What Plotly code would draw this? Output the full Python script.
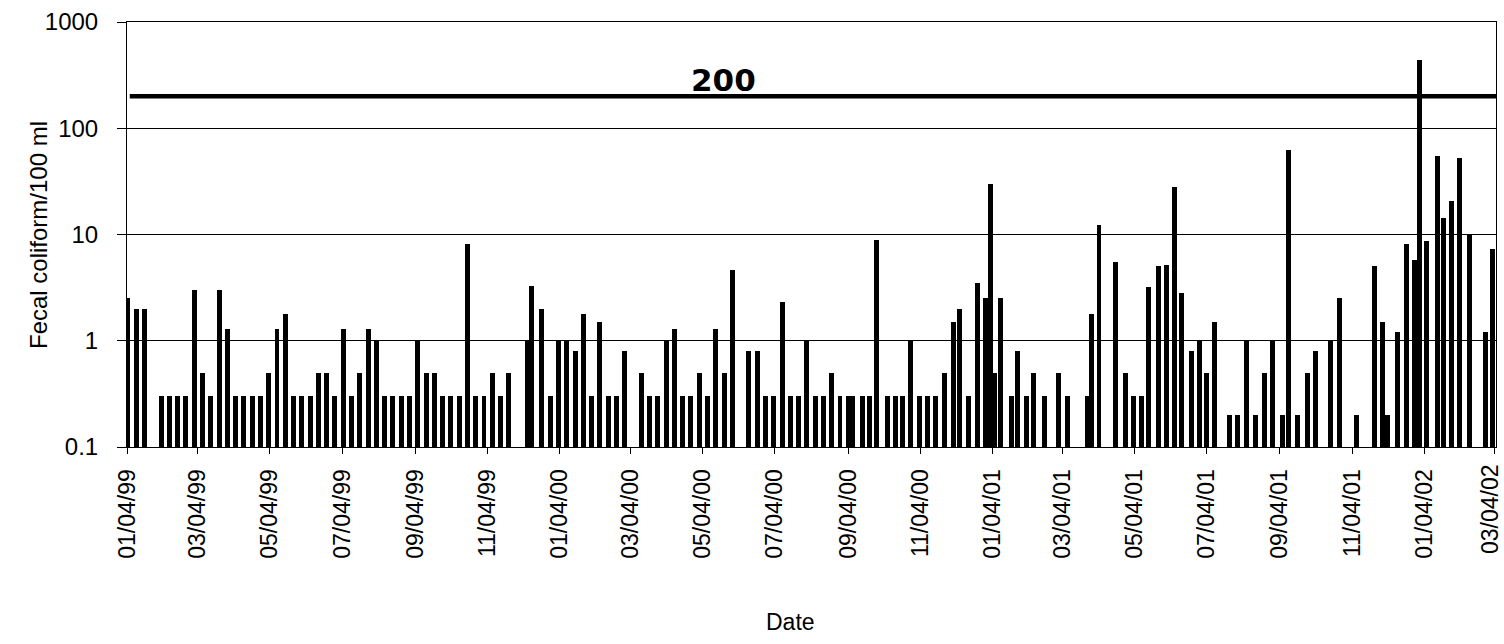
import plotly.graph_objects as go
from datetime import date

# Sampling dates and fecal coliform counts (per 100 ml)
sample_dates = [
    "1999-01-04", "1999-01-11", "1999-01-18", "1999-02-01", "1999-02-08", "1999-02-15", "1999-02-22",
    "1999-03-01", "1999-03-08", "1999-03-15", "1999-03-22", "1999-03-29", "1999-04-05", "1999-04-12",
    "1999-04-19", "1999-04-26", "1999-05-03", "1999-05-10", "1999-05-17", "1999-05-24", "1999-05-31",
    "1999-06-07", "1999-06-14", "1999-06-21", "1999-06-28", "1999-07-05", "1999-07-12", "1999-07-19",
    "1999-07-26", "1999-08-02", "1999-08-09", "1999-08-16", "1999-08-23", "1999-08-30", "1999-09-06",
    "1999-09-13", "1999-09-20", "1999-09-27", "1999-10-04", "1999-10-11", "1999-10-18", "1999-10-25",
    "1999-11-01", "1999-11-08", "1999-11-15", "1999-11-22",
    "1999-12-08", "1999-12-11", "1999-12-20", "1999-12-27", "2000-01-03", "2000-01-10", "2000-01-17",
    "2000-01-24", "2000-01-31", "2000-02-07", "2000-02-14", "2000-02-21", "2000-02-28",
    "2000-03-13", "2000-03-20", "2000-03-27", "2000-04-03", "2000-04-10", "2000-04-17", "2000-04-24",
    "2000-05-01", "2000-05-08", "2000-05-15", "2000-05-22", "2000-05-29",
    "2000-06-12", "2000-06-19", "2000-06-26", "2000-07-03", "2000-07-10", "2000-07-17", "2000-07-24",
    "2000-07-31", "2000-08-07", "2000-08-14", "2000-08-21", "2000-08-28", "2000-09-04",
    "2000-09-08", "2000-09-16", "2000-09-22", "2000-09-28", "2000-10-07", "2000-10-14", "2000-10-20",
    "2000-10-27", "2000-11-03", "2000-11-10", "2000-11-17", "2000-11-24", "2000-12-02", "2000-12-07",
    "2000-12-15", "2000-12-22", "2000-12-29", "2001-01-02", "2001-01-06", "2001-01-11",
    "2001-01-20", "2001-01-25", "2001-02-02", "2001-02-08", "2001-02-17", "2001-03-01", "2001-03-08",
    "2001-03-25", "2001-03-29", "2001-04-04", "2001-04-18", "2001-04-26", "2001-05-03", "2001-05-10",
    "2001-05-16", "2001-05-24", "2001-05-31", "2001-06-07", "2001-06-13", "2001-06-21", "2001-06-28",
    "2001-07-04", "2001-07-11", "2001-07-23", "2001-07-30", "2001-08-07", "2001-08-14", "2001-08-22",
    "2001-08-29", "2001-09-06", "2001-09-11", "2001-09-19", "2001-09-27", "2001-10-04", "2001-10-17",
    "2001-10-24", "2001-11-08", "2001-11-23", "2001-11-30", "2001-12-04", "2001-12-12", "2001-12-20",
    "2001-12-27", "2001-12-31", "2002-01-06", "2002-01-15", "2002-01-20", "2002-01-27", "2002-02-03",
    "2002-02-11", "2002-02-25", "2002-03-03",
]

fecal_coliform = [
    2.5, 2.0, 2.0, 0.3, 0.3, 0.3, 0.3,
    3.0, 0.5, 0.3, 3.0, 1.3, 0.3, 0.3,
    0.3, 0.3, 0.5, 1.3, 1.8, 0.3, 0.3,
    0.3, 0.5, 0.5, 0.3, 1.3, 0.3, 0.5,
    1.3, 1.0, 0.3, 0.3, 0.3, 0.3, 1.0,
    0.5, 0.5, 0.3, 0.3, 0.3, 8.1, 0.3,
    0.3, 0.5, 0.3, 0.5,
    1.0, 3.3, 2.0, 0.3, 1.0, 1.0, 0.8,
    1.8, 0.3, 1.5, 0.3, 0.3, 0.8,
    0.5, 0.3, 0.3, 1.0, 1.3, 0.3, 0.3,
    0.5, 0.3, 1.3, 0.5, 4.6,
    0.8, 0.8, 0.3, 0.3, 2.3, 0.3, 0.3,
    1.0, 0.3, 0.3, 0.5, 0.3, 0.3,
    0.3, 0.3, 0.3, 8.8, 0.3, 0.3, 0.3,
    1.0, 0.3, 0.3, 0.3, 0.5, 1.5, 2.0,
    0.3, 3.5, 2.5, 30, 0.5, 2.5,
    0.3, 0.8, 0.3, 0.5, 0.3, 0.5, 0.3,
    0.3, 1.8, 12.3, 5.5, 0.5, 0.3, 0.3,
    3.2, 5.0, 5.2, 27.8, 2.8, 0.8, 1.0,
    0.5, 1.5, 0.2, 0.2, 1.0, 0.2, 0.5,
    1.0, 0.2, 62, 0.2, 0.5, 0.8, 1.0,
    2.5, 0.2, 5.0, 1.5, 0.2, 1.2, 8.2,
    5.7, 435, 8.7, 55, 14.4, 20.6, 52,
    9.8, 1.2, 7.3,
]

# Bimonthly axis ticks
tick_dates = [
    "1999-01-04", "1999-03-04", "1999-05-04", "1999-07-04", "1999-09-04", "1999-11-04",
    "2000-01-04", "2000-03-04", "2000-05-04", "2000-07-04", "2000-09-04", "2000-11-04",
    "2001-01-04", "2001-03-04", "2001-05-04", "2001-07-04", "2001-09-04", "2001-11-04",
    "2002-01-04", "2002-03-04",
]

y_ticks = [0.1, 1, 10, 100, 1000]
y_tick_text = ["0.1", "1", "10", "100", "1000"]

standard_value = 200
standard_span = ["1999-01-05 12:00", "2002-03-05 16:00"]

DAY_MS = 86400000
FONT = "Liberation Sans, Arial, sans-serif"
TICK_FONT = dict(size=23, family=FONT, color="black")


def mdy(iso):
    return date.fromisoformat(iso).strftime("%m/%d/%y")


# The final tick sits on the right border, so its label is placed as an
# annotation nudged inward to stay inside the page.
tick_text = [mdy(d) for d in tick_dates[:-1]] + [""]

fig = go.Figure()

fig.add_trace(go.Bar(
    x=sample_dates,
    y=fecal_coliform,
    width=4.2 * DAY_MS,
    marker=dict(color="black", line=dict(width=0)),
    showlegend=False,
))

# Regulatory standard line
fig.add_trace(go.Scatter(
    x=standard_span,
    y=[standard_value, standard_value],
    mode="lines",
    line=dict(color="black", width=4.5),
    showlegend=False,
    hoverinfo="skip",
))

fig.update_layout(
    width=1504,
    height=644,
    margin=dict(l=127, r=8, t=22, b=197),
    paper_bgcolor="white",
    plot_bgcolor="white",
    font=dict(family=FONT, color="black"),
    bargap=0,
    xaxis=dict(
        type="date",
        range=["1999-01-03 04:00", "2002-03-05 16:00"],
        tickvals=tick_dates,
        ticktext=tick_text,
        tickangle=-90,
        tickfont=TICK_FONT,
        ticks="outside",
        ticklen=6,
        tickcolor="black",
        ticklabelstandoff=6,
        automargin=False,
        showgrid=False,
        showline=True,
        linecolor="black",
        linewidth=1,
        mirror=True,
        zeroline=False,
    ),
    yaxis=dict(
        type="log",
        range=[-1, 3],
        tickvals=y_ticks,
        ticktext=y_tick_text,
        tickfont=dict(size=24, family=FONT, color="black"),
        ticks="outside",
        ticklen=9,
        tickcolor="black",
        ticklabelstandoff=14,
        automargin=False,
        showgrid=True,
        gridcolor="black",
        gridwidth=1,
        showline=True,
        linecolor="black",
        linewidth=1,
        mirror=True,
        zeroline=False,
    ),
    annotations=[
        dict(
            text="<b>200</b>", xref="paper", yref="paper",
            x=0.4354, y=0.8635, xanchor="center", yanchor="middle",
            showarrow=False, font=dict(size=31, family="DejaVu Sans", color="black"),
        ),
        dict(
            text="Fecal coliform/100 ml", xref="paper", yref="paper",
            x=-0.065, y=0.4988, xanchor="center", yanchor="middle", textangle=-90,
            showarrow=False, font=dict(size=24, family=FONT, color="black"),
        ),
        dict(
            text="Date", xref="paper", yref="paper",
            x=0.4843, y=-0.4118, xanchor="center", yanchor="middle",
            showarrow=False, font=dict(size=23, family=FONT, color="black"),
        ),
        dict(
            text=mdy(tick_dates[-1]), xref="x", yref="paper",
            x=tick_dates[-1], y=-0.1459, xshift=-4,
            xanchor="center", yanchor="middle", textangle=-90,
            showarrow=False, font=TICK_FONT,
        ),
    ],
)

fig.write_html("out.html")
